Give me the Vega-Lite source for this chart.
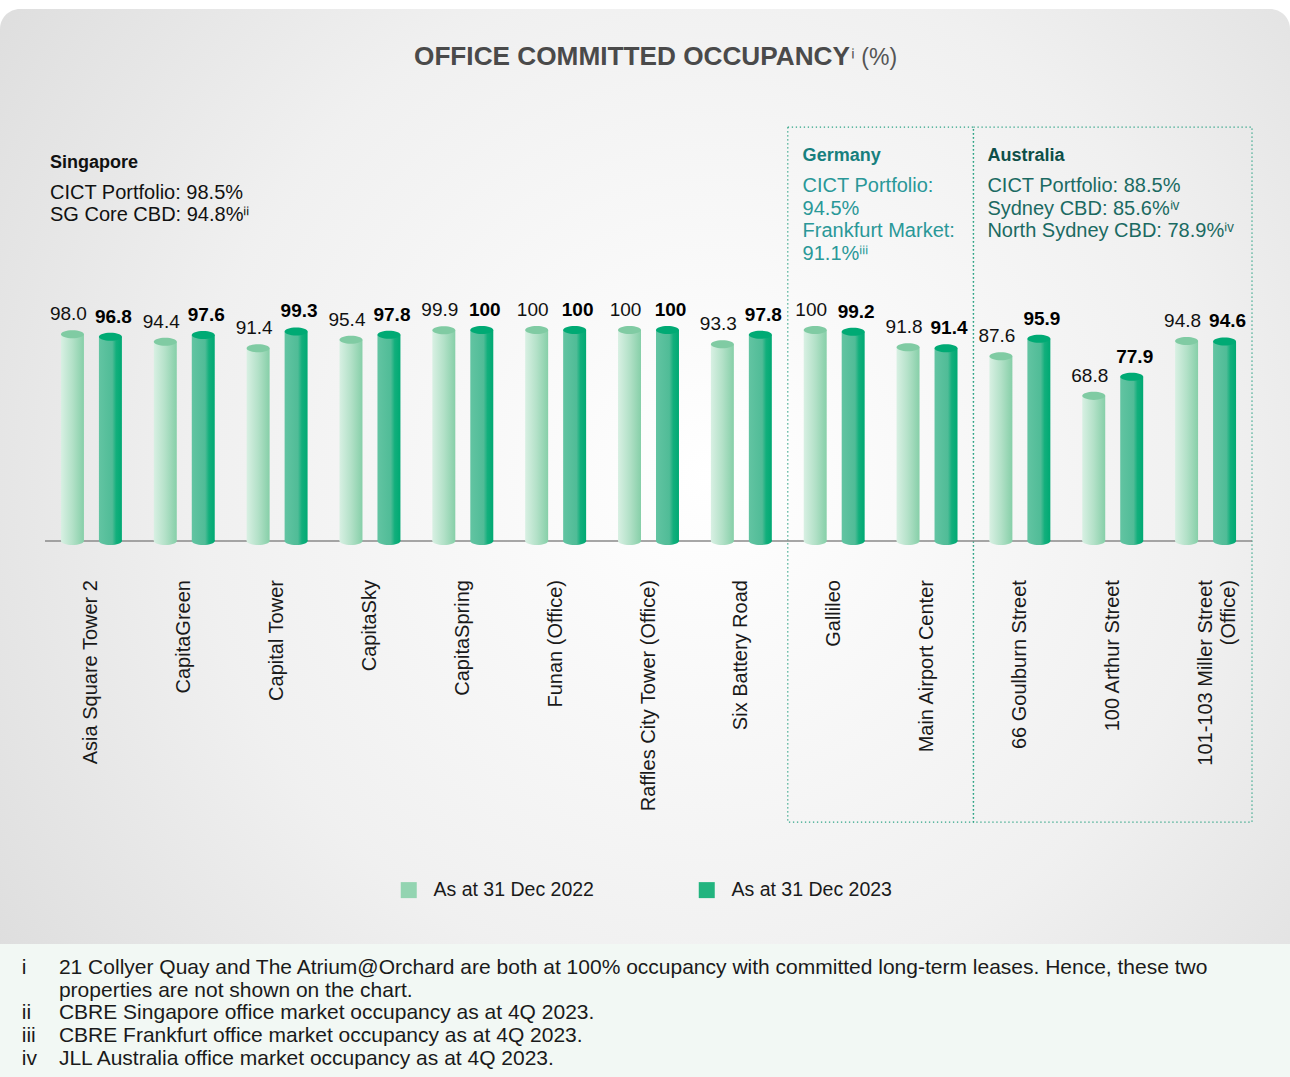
{
  "$schema": "https://vega.github.io/schema/vega-lite/v6.json",
  "width": 1290,
  "height": 1077,
  "autosize": {"type": "none"},
  "padding": 0,
  "background": "#ffffff",
  "config": {"view": {"stroke": null}, "font": "Liberation Sans"},
  "datasets": {
    "occ": [
      {"property": "Asia Square Tower 2", "series": "As at 31 Dec 2022", "value": 98.0, "label": "98.0"},
      {"property": "Asia Square Tower 2", "series": "As at 31 Dec 2023", "value": 96.8, "label": "96.8"},
      {"property": "CapitaGreen", "series": "As at 31 Dec 2022", "value": 94.4, "label": "94.4"},
      {"property": "CapitaGreen", "series": "As at 31 Dec 2023", "value": 97.6, "label": "97.6"},
      {"property": "Capital Tower", "series": "As at 31 Dec 2022", "value": 91.4, "label": "91.4"},
      {"property": "Capital Tower", "series": "As at 31 Dec 2023", "value": 99.3, "label": "99.3"},
      {"property": "CapitaSky", "series": "As at 31 Dec 2022", "value": 95.4, "label": "95.4"},
      {"property": "CapitaSky", "series": "As at 31 Dec 2023", "value": 97.8, "label": "97.8"},
      {"property": "CapitaSpring", "series": "As at 31 Dec 2022", "value": 99.9, "label": "99.9"},
      {"property": "CapitaSpring", "series": "As at 31 Dec 2023", "value": 100, "label": "100"},
      {"property": "Funan (Office)", "series": "As at 31 Dec 2022", "value": 100, "label": "100"},
      {"property": "Funan (Office)", "series": "As at 31 Dec 2023", "value": 100, "label": "100"},
      {"property": "Raffles City Tower (Office)", "series": "As at 31 Dec 2022", "value": 100, "label": "100"},
      {"property": "Raffles City Tower (Office)", "series": "As at 31 Dec 2023", "value": 100, "label": "100"},
      {"property": "Six Battery Road", "series": "As at 31 Dec 2022", "value": 93.3, "label": "93.3"},
      {"property": "Six Battery Road", "series": "As at 31 Dec 2023", "value": 97.8, "label": "97.8"},
      {"property": "Gallileo", "series": "As at 31 Dec 2022", "value": 100, "label": "100"},
      {"property": "Gallileo", "series": "As at 31 Dec 2023", "value": 99.2, "label": "99.2"},
      {"property": "Main Airport Center", "series": "As at 31 Dec 2022", "value": 91.8, "label": "91.8"},
      {"property": "Main Airport Center", "series": "As at 31 Dec 2023", "value": 91.4, "label": "91.4"},
      {"property": "66 Goulburn Street", "series": "As at 31 Dec 2022", "value": 87.6, "label": "87.6"},
      {"property": "66 Goulburn Street", "series": "As at 31 Dec 2023", "value": 95.9, "label": "95.9"},
      {"property": "100 Arthur Street", "series": "As at 31 Dec 2022", "value": 68.8, "label": "68.8"},
      {"property": "100 Arthur Street", "series": "As at 31 Dec 2023", "value": 77.9, "label": "77.9"},
      {"property": "101-103 Miller Street\n(Office)", "series": "As at 31 Dec 2022", "value": 94.8, "label": "94.8"},
      {"property": "101-103 Miller Street\n(Office)", "series": "As at 31 Dec 2023", "value": 94.6, "label": "94.6"}
    ]
  },
  "data": {"name": "occ"},
  "layer": [
    {
      "data": {"values": [{"panel": "card"}]},
      "mark": {"type": "rect", "cornerRadiusTopLeft": 20, "cornerRadiusTopRight": 20,
        "fill": {"gradient": "radial", "x1": 0.55, "y1": 0.5, "x2": 0.55, "y2": 0.5, "r1": 0, "r2": 0.72,
          "stops": [{"offset": 0, "color": "#ffffff"}, {"offset": 0.55, "color": "#f0f0f0"}, {"offset": 1, "color": "#dadada"}]}},
      "encoding": {
        "y": {"datum": 252.1, "type": "quantitative", "scale": {"domain": [-254, 256.4], "nice": false, "zero": false}, "axis": null},
        "y2": {"datum": -191}
      }
    },
    {
      "data": {"values": [{"panel": "notes"}]},
      "mark": {"type": "rect", "fill": "#f2f8f4"},
      "encoding": {
        "y": {"datum": -191, "type": "quantitative", "scale": {"domain": [-254, 256.4], "nice": false, "zero": false}, "axis": null},
        "y2": {"datum": -254}
      }
    },
    {
      "data": {"values": [{"first": "Gallileo", "last": "Main Airport Center"}, {"first": "66 Goulburn Street", "last": "101-103 Miller Street\n(Office)"}]},
      "mark": {"type": "rect", "fillOpacity": 0, "stroke": "#2fa486", "strokeWidth": 1.3, "strokeDash": [1.3, 2.7]},
      "encoding": {
        "x": {"field": "first", "type": "nominal", "bandPosition": 0, "axis": null,
          "scale": {"domain": ["Asia Square Tower 2","CapitaGreen","Capital Tower","CapitaSky","CapitaSpring","Funan (Office)","Raffles City Tower (Office)","Six Battery Road","Gallileo","Main Airport Center","66 Goulburn Street","100 Arthur Street","101-103 Miller Street\n(Office)"], "range": [45, 1252], "paddingInner": 0, "paddingOuter": 0}},
        "x2": {"field": "last", "bandPosition": 1},
        "y": {"datum": 196.2, "type": "quantitative", "scale": {"domain": [-254, 256.4], "nice": false, "zero": false}, "axis": null},
        "y2": {"datum": -133.2}
      }
    },
    {
      "data": {"values": [{"from": "Asia Square Tower 2", "to": "101-103 Miller Street\n(Office)"}]},
      "mark": {"type": "rule", "color": "#8a8a8a", "strokeWidth": 1.5},
      "encoding": {
        "x": {"field": "from", "type": "nominal", "bandPosition": 0, "axis": null,
          "scale": {"domain": ["Asia Square Tower 2","CapitaGreen","Capital Tower","CapitaSky","CapitaSpring","Funan (Office)","Raffles City Tower (Office)","Six Battery Road","Gallileo","Main Airport Center","66 Goulburn Street","100 Arthur Street","101-103 Miller Street\n(Office)"], "range": [45, 1252], "paddingInner": 0, "paddingOuter": 0}},
        "x2": {"field": "to", "bandPosition": 1},
        "y": {"datum": 0, "type": "quantitative", "scale": {"domain": [-254, 256.4], "nice": false, "zero": false}, "axis": null}
      }
    },
    {
      "transform": [{"filter": "datum.series == 'As at 31 Dec 2022'"}],
      "mark": {"type": "point", "filled": true, "opacity": 1, "strokeWidth": 0, "size": 529,
        "shape": "M-1,0A1,0.35,0,1,0,1,0A1,0.35,0,1,0,-1,0Z",
        "fill": {"gradient": "linear", "x1": 0, "y1": 0, "x2": 1, "y2": 0, "stops": [{"offset": 0, "color": "#d8f0e3"}, {"offset": 0.5, "color": "#b3e1c8"}, {"offset": 1, "color": "#86cfa8"}]}},
      "encoding": {
        "x": {"field": "property", "type": "nominal", "axis": null,
          "scale": {"domain": ["Asia Square Tower 2","CapitaGreen","Capital Tower","CapitaSky","CapitaSpring","Funan (Office)","Raffles City Tower (Office)","Six Battery Road","Gallileo","Main Airport Center","66 Goulburn Street","100 Arthur Street","101-103 Miller Street\n(Office)"], "range": [45, 1252], "paddingInner": 0, "paddingOuter": 0}},
        "xOffset": {"field": "series", "type": "nominal", "scale": {"domain": ["As at 31 Dec 2022", "As at 31 Dec 2023"], "paddingInner": 0.395, "paddingOuter": 0.42}},
        "y": {"datum": 0, "type": "quantitative", "scale": {"domain": [-254, 256.4], "nice": false, "zero": false}, "axis": null}
      }
    },
    {
      "transform": [{"filter": "datum.series == 'As at 31 Dec 2023'"}],
      "mark": {"type": "point", "filled": true, "opacity": 1, "strokeWidth": 0, "size": 529,
        "shape": "M-1,0A1,0.35,0,1,0,1,0A1,0.35,0,1,0,-1,0Z",
        "fill": {"gradient": "linear", "x1": 0, "y1": 0, "x2": 1, "y2": 0, "stops": [{"offset": 0, "color": "#62c4a2"}, {"offset": 0.58, "color": "#50bc97"}, {"offset": 0.75, "color": "#12af7c"}, {"offset": 1, "color": "#00a973"}]}},
      "encoding": {
        "x": {"field": "property", "type": "nominal", "axis": null,
          "scale": {"domain": ["Asia Square Tower 2","CapitaGreen","Capital Tower","CapitaSky","CapitaSpring","Funan (Office)","Raffles City Tower (Office)","Six Battery Road","Gallileo","Main Airport Center","66 Goulburn Street","100 Arthur Street","101-103 Miller Street\n(Office)"], "range": [45, 1252], "paddingInner": 0, "paddingOuter": 0}},
        "xOffset": {"field": "series", "type": "nominal", "scale": {"domain": ["As at 31 Dec 2022", "As at 31 Dec 2023"], "paddingInner": 0.395, "paddingOuter": 0.42}},
        "y": {"datum": 0, "type": "quantitative", "scale": {"domain": [-254, 256.4], "nice": false, "zero": false}, "axis": null}
      }
    },
    {
      "transform": [{"filter": "datum.series == 'As at 31 Dec 2022'"}],
      "mark": {"type": "bar",
        "fill": {"gradient": "linear", "x1": 0, "y1": 0, "x2": 1, "y2": 0, "stops": [{"offset": 0, "color": "#d8f0e3"}, {"offset": 0.5, "color": "#b3e1c8"}, {"offset": 1, "color": "#86cfa8"}]}},
      "encoding": {
        "x": {"field": "property", "type": "nominal", "axis": null,
          "scale": {"domain": ["Asia Square Tower 2","CapitaGreen","Capital Tower","CapitaSky","CapitaSpring","Funan (Office)","Raffles City Tower (Office)","Six Battery Road","Gallileo","Main Airport Center","66 Goulburn Street","100 Arthur Street","101-103 Miller Street\n(Office)"], "range": [45, 1252], "paddingInner": 0, "paddingOuter": 0}},
        "xOffset": {"field": "series", "type": "nominal", "scale": {"domain": ["As at 31 Dec 2022", "As at 31 Dec 2023"], "paddingInner": 0.395, "paddingOuter": 0.42}},
        "y": {"field": "value", "type": "quantitative", "scale": {"domain": [-254, 256.4], "nice": false, "zero": false}, "axis": null},
        "y2": {"datum": 0}
      }
    },
    {
      "transform": [{"filter": "datum.series == 'As at 31 Dec 2023'"}],
      "mark": {"type": "bar",
        "fill": {"gradient": "linear", "x1": 0, "y1": 0, "x2": 1, "y2": 0, "stops": [{"offset": 0, "color": "#62c4a2"}, {"offset": 0.58, "color": "#50bc97"}, {"offset": 0.75, "color": "#12af7c"}, {"offset": 1, "color": "#00a973"}]}},
      "encoding": {
        "x": {"field": "property", "type": "nominal", "axis": null,
          "scale": {"domain": ["Asia Square Tower 2","CapitaGreen","Capital Tower","CapitaSky","CapitaSpring","Funan (Office)","Raffles City Tower (Office)","Six Battery Road","Gallileo","Main Airport Center","66 Goulburn Street","100 Arthur Street","101-103 Miller Street\n(Office)"], "range": [45, 1252], "paddingInner": 0, "paddingOuter": 0}},
        "xOffset": {"field": "series", "type": "nominal", "scale": {"domain": ["As at 31 Dec 2022", "As at 31 Dec 2023"], "paddingInner": 0.395, "paddingOuter": 0.42}},
        "y": {"field": "value", "type": "quantitative", "scale": {"domain": [-254, 256.4], "nice": false, "zero": false}, "axis": null},
        "y2": {"datum": 0}
      }
    },
    {
      "transform": [{"filter": "datum.series == 'As at 31 Dec 2022'"}],
      "mark": {"type": "point", "filled": true, "opacity": 1, "strokeWidth": 0, "size": 529, "fill": "#80cba3",
        "shape": "M-1,0A1,0.35,0,1,0,1,0A1,0.35,0,1,0,-1,0Z"},
      "encoding": {
        "x": {"field": "property", "type": "nominal", "axis": null,
          "scale": {"domain": ["Asia Square Tower 2","CapitaGreen","Capital Tower","CapitaSky","CapitaSpring","Funan (Office)","Raffles City Tower (Office)","Six Battery Road","Gallileo","Main Airport Center","66 Goulburn Street","100 Arthur Street","101-103 Miller Street\n(Office)"], "range": [45, 1252], "paddingInner": 0, "paddingOuter": 0}},
        "xOffset": {"field": "series", "type": "nominal", "scale": {"domain": ["As at 31 Dec 2022", "As at 31 Dec 2023"], "paddingInner": 0.395, "paddingOuter": 0.42}},
        "y": {"field": "value", "type": "quantitative", "scale": {"domain": [-254, 256.4], "nice": false, "zero": false}, "axis": null}
      }
    },
    {
      "transform": [{"filter": "datum.series == 'As at 31 Dec 2023'"}],
      "mark": {"type": "point", "filled": true, "opacity": 1, "strokeWidth": 0, "size": 529, "fill": "#00aa74",
        "shape": "M-1,0A1,0.35,0,1,0,1,0A1,0.35,0,1,0,-1,0Z"},
      "encoding": {
        "x": {"field": "property", "type": "nominal", "axis": null,
          "scale": {"domain": ["Asia Square Tower 2","CapitaGreen","Capital Tower","CapitaSky","CapitaSpring","Funan (Office)","Raffles City Tower (Office)","Six Battery Road","Gallileo","Main Airport Center","66 Goulburn Street","100 Arthur Street","101-103 Miller Street\n(Office)"], "range": [45, 1252], "paddingInner": 0, "paddingOuter": 0}},
        "xOffset": {"field": "series", "type": "nominal", "scale": {"domain": ["As at 31 Dec 2022", "As at 31 Dec 2023"], "paddingInner": 0.395, "paddingOuter": 0.42}},
        "y": {"field": "value", "type": "quantitative", "scale": {"domain": [-254, 256.4], "nice": false, "zero": false}, "axis": null}
      }
    },
    {
      "transform": [{"filter": "datum.series == 'As at 31 Dec 2022'"}],
      "mark": {"type": "text", "fontSize": 19, "color": "#111111", "baseline": "alphabetic", "dy": -14, "dx": -4},
      "encoding": {
        "x": {"field": "property", "type": "nominal", "axis": null,
          "scale": {"domain": ["Asia Square Tower 2","CapitaGreen","Capital Tower","CapitaSky","CapitaSpring","Funan (Office)","Raffles City Tower (Office)","Six Battery Road","Gallileo","Main Airport Center","66 Goulburn Street","100 Arthur Street","101-103 Miller Street\n(Office)"], "range": [45, 1252], "paddingInner": 0, "paddingOuter": 0}},
        "xOffset": {"field": "series", "type": "nominal", "scale": {"domain": ["As at 31 Dec 2022", "As at 31 Dec 2023"], "paddingInner": 0.395, "paddingOuter": 0.42}},
        "y": {"field": "value", "type": "quantitative", "scale": {"domain": [-254, 256.4], "nice": false, "zero": false}, "axis": null},
        "text": {"field": "label", "type": "nominal"}
      }
    },
    {
      "transform": [{"filter": "datum.series == 'As at 31 Dec 2023'"}],
      "mark": {"type": "text", "fontSize": 19, "fontWeight": "bold", "color": "#000000", "baseline": "alphabetic", "dy": -14, "dx": 3},
      "encoding": {
        "x": {"field": "property", "type": "nominal", "axis": null,
          "scale": {"domain": ["Asia Square Tower 2","CapitaGreen","Capital Tower","CapitaSky","CapitaSpring","Funan (Office)","Raffles City Tower (Office)","Six Battery Road","Gallileo","Main Airport Center","66 Goulburn Street","100 Arthur Street","101-103 Miller Street\n(Office)"], "range": [45, 1252], "paddingInner": 0, "paddingOuter": 0}},
        "xOffset": {"field": "series", "type": "nominal", "scale": {"domain": ["As at 31 Dec 2022", "As at 31 Dec 2023"], "paddingInner": 0.395, "paddingOuter": 0.42}},
        "y": {"field": "value", "type": "quantitative", "scale": {"domain": [-254, 256.4], "nice": false, "zero": false}, "axis": null},
        "text": {"field": "label", "type": "nominal"}
      }
    },
    {
      "transform": [{"filter": "datum.series == 'As at 31 Dec 2022'"}],
      "mark": {"type": "text", "fontSize": 20, "color": "#1a1a1a", "angle": 270, "align": "right", "baseline": "middle", "lineBreak": "\n", "lineHeight": 23},
      "encoding": {
        "x": {"field": "property", "type": "nominal", "axis": null,
          "scale": {"domain": ["Asia Square Tower 2","CapitaGreen","Capital Tower","CapitaSky","CapitaSpring","Funan (Office)","Raffles City Tower (Office)","Six Battery Road","Gallileo","Main Airport Center","66 Goulburn Street","100 Arthur Street","101-103 Miller Street\n(Office)"], "range": [45, 1252], "paddingInner": 0, "paddingOuter": 0}},
        "y": {"datum": -18.5, "type": "quantitative", "scale": {"domain": [-254, 256.4], "nice": false, "zero": false}, "axis": null},
        "text": {"field": "property", "type": "nominal"}
      }
    },
    {
      "mark": {"type": "square", "opacity": 0},
      "encoding": {
        "x": {"field": "property", "type": "nominal", "axis": null,
          "scale": {"domain": ["Asia Square Tower 2","CapitaGreen","Capital Tower","CapitaSky","CapitaSpring","Funan (Office)","Raffles City Tower (Office)","Six Battery Road","Gallileo","Main Airport Center","66 Goulburn Street","100 Arthur Street","101-103 Miller Street\n(Office)"], "range": [45, 1252], "paddingInner": 0, "paddingOuter": 0}},
        "y": {"field": "value", "type": "quantitative", "scale": {"domain": [-254, 256.4], "nice": false, "zero": false}, "axis": null},
        "color": {"field": "series", "type": "nominal",
          "scale": {"domain": ["As at 31 Dec 2022", "As at 31 Dec 2023"], "range": ["#93d4b1", "#22b47f"]},
          "legend": {"title": null, "orient": "none", "legendX": 399, "legendY": 880, "direction": "horizontal",
            "symbolType": "square", "symbolSize": 256, "symbolOpacity": 1, "symbolStrokeWidth": 0,
            "labelFontSize": 19.5, "labelColor": "#1a1a1a", "labelFont": "Liberation Sans", "labelOffset": 15,
            "columnPadding": 103, "padding": 0, "labelLimit": 0}}
      }
    },
    {
      "data": {"values": [{"anchor": "Gallileo", "text": "OFFICE COMMITTED OCCUPANCY"}]},
      "mark": {"type": "text", "fontSize": 26.2, "fontWeight": "bold", "color": "#4a4a4a", "align": "right", "baseline": "alphabetic"},
      "encoding": {
        "x": {"field": "anchor", "type": "nominal", "bandPosition": 0.67, "axis": null,
          "scale": {"domain": ["Asia Square Tower 2","CapitaGreen","Capital Tower","CapitaSky","CapitaSpring","Funan (Office)","Raffles City Tower (Office)","Six Battery Road","Gallileo","Main Airport Center","66 Goulburn Street","100 Arthur Street","101-103 Miller Street\n(Office)"], "range": [45, 1252], "paddingInner": 0, "paddingOuter": 0}},
        "y": {"datum": 225.6, "type": "quantitative", "scale": {"domain": [-254, 256.4], "nice": false, "zero": false}, "axis": null},
        "text": {"field": "text", "type": "nominal"}
      }
    },
    {
      "data": {"values": [{"anchor": "Gallileo", "text": "ⁱ (%)"}]},
      "mark": {"type": "text", "fontSize": 23, "color": "#555555", "align": "left", "baseline": "alphabetic"},
      "encoding": {
        "x": {"field": "anchor", "type": "nominal", "bandPosition": 0.68, "axis": null,
          "scale": {"domain": ["Asia Square Tower 2","CapitaGreen","Capital Tower","CapitaSky","CapitaSpring","Funan (Office)","Raffles City Tower (Office)","Six Battery Road","Gallileo","Main Airport Center","66 Goulburn Street","100 Arthur Street","101-103 Miller Street\n(Office)"], "range": [45, 1252], "paddingInner": 0, "paddingOuter": 0}},
        "y": {"datum": 225.6, "type": "quantitative", "scale": {"domain": [-254, 256.4], "nice": false, "zero": false}, "axis": null},
        "text": {"field": "text", "type": "nominal"}
      }
    },
    {
      "data": {"values": [{"anchor": "Asia Square Tower 2", "text": "Singapore"}]},
      "mark": {"type": "text", "fontSize": 18, "fontWeight": "bold", "color": "#111111", "align": "left", "baseline": "alphabetic"},
      "encoding": {
        "x": {"field": "anchor", "type": "nominal", "bandPosition": 0.054, "axis": null,
          "scale": {"domain": ["Asia Square Tower 2","CapitaGreen","Capital Tower","CapitaSky","CapitaSpring","Funan (Office)","Raffles City Tower (Office)","Six Battery Road","Gallileo","Main Airport Center","66 Goulburn Street","100 Arthur Street","101-103 Miller Street\n(Office)"], "range": [45, 1252], "paddingInner": 0, "paddingOuter": 0}},
        "y": {"datum": 176.8, "type": "quantitative", "scale": {"domain": [-254, 256.4], "nice": false, "zero": false}, "axis": null},
        "text": {"field": "text", "type": "nominal"}
      }
    },
    {
      "data": {"values": [{"anchor": "Asia Square Tower 2", "text": "CICT Portfolio: 98.5%\nSG Core CBD: 94.8%ⁱⁱ"}]},
      "mark": {"type": "text", "fontSize": 20, "color": "#111111", "align": "left", "baseline": "alphabetic", "lineBreak": "\n", "lineHeight": 22},
      "encoding": {
        "x": {"field": "anchor", "type": "nominal", "bandPosition": 0.054, "axis": null,
          "scale": {"domain": ["Asia Square Tower 2","CapitaGreen","Capital Tower","CapitaSky","CapitaSpring","Funan (Office)","Raffles City Tower (Office)","Six Battery Road","Gallileo","Main Airport Center","66 Goulburn Street","100 Arthur Street","101-103 Miller Street\n(Office)"], "range": [45, 1252], "paddingInner": 0, "paddingOuter": 0}},
        "y": {"datum": 162.1, "type": "quantitative", "scale": {"domain": [-254, 256.4], "nice": false, "zero": false}, "axis": null},
        "text": {"field": "text", "type": "nominal"}
      }
    },
    {
      "data": {"values": [{"anchor": "Gallileo", "text": "Germany"}]},
      "mark": {"type": "text", "fontSize": 18, "fontWeight": "bold", "color": "#17807e", "align": "left", "baseline": "alphabetic"},
      "encoding": {
        "x": {"field": "anchor", "type": "nominal", "bandPosition": 0.16, "axis": null,
          "scale": {"domain": ["Asia Square Tower 2","CapitaGreen","Capital Tower","CapitaSky","CapitaSpring","Funan (Office)","Raffles City Tower (Office)","Six Battery Road","Gallileo","Main Airport Center","66 Goulburn Street","100 Arthur Street","101-103 Miller Street\n(Office)"], "range": [45, 1252], "paddingInner": 0, "paddingOuter": 0}},
        "y": {"datum": 180.1, "type": "quantitative", "scale": {"domain": [-254, 256.4], "nice": false, "zero": false}, "axis": null},
        "text": {"field": "text", "type": "nominal"}
      }
    },
    {
      "data": {"values": [{"anchor": "Gallileo", "text": "CICT Portfolio:\n94.5%\nFrankfurt Market:\n91.1%ⁱⁱⁱ"}]},
      "mark": {"type": "text", "fontSize": 20, "color": "#2a9898", "align": "left", "baseline": "alphabetic", "lineBreak": "\n", "lineHeight": 22.7},
      "encoding": {
        "x": {"field": "anchor", "type": "nominal", "bandPosition": 0.16, "axis": null,
          "scale": {"domain": ["Asia Square Tower 2","CapitaGreen","Capital Tower","CapitaSky","CapitaSpring","Funan (Office)","Raffles City Tower (Office)","Six Battery Road","Gallileo","Main Airport Center","66 Goulburn Street","100 Arthur Street","101-103 Miller Street\n(Office)"], "range": [45, 1252], "paddingInner": 0, "paddingOuter": 0}},
        "y": {"datum": 165.4, "type": "quantitative", "scale": {"domain": [-254, 256.4], "nice": false, "zero": false}, "axis": null},
        "text": {"field": "text", "type": "nominal"}
      }
    },
    {
      "data": {"values": [{"anchor": "66 Goulburn Street", "text": "Australia"}]},
      "mark": {"type": "text", "fontSize": 18, "fontWeight": "bold", "color": "#0e4f48", "align": "left", "baseline": "alphabetic"},
      "encoding": {
        "x": {"field": "anchor", "type": "nominal", "bandPosition": 0.15, "axis": null,
          "scale": {"domain": ["Asia Square Tower 2","CapitaGreen","Capital Tower","CapitaSky","CapitaSpring","Funan (Office)","Raffles City Tower (Office)","Six Battery Road","Gallileo","Main Airport Center","66 Goulburn Street","100 Arthur Street","101-103 Miller Street\n(Office)"], "range": [45, 1252], "paddingInner": 0, "paddingOuter": 0}},
        "y": {"datum": 180.1, "type": "quantitative", "scale": {"domain": [-254, 256.4], "nice": false, "zero": false}, "axis": null},
        "text": {"field": "text", "type": "nominal"}
      }
    },
    {
      "data": {"values": [{"anchor": "66 Goulburn Street", "text": "CICT Portfolio: 88.5%\nSydney CBD: 85.6%ⁱᵛ\nNorth Sydney CBD: 78.9%ⁱᵛ"}]},
      "mark": {"type": "text", "fontSize": 20, "color": "#1b6a62", "align": "left", "baseline": "alphabetic", "lineBreak": "\n", "lineHeight": 22.7},
      "encoding": {
        "x": {"field": "anchor", "type": "nominal", "bandPosition": 0.15, "axis": null,
          "scale": {"domain": ["Asia Square Tower 2","CapitaGreen","Capital Tower","CapitaSky","CapitaSpring","Funan (Office)","Raffles City Tower (Office)","Six Battery Road","Gallileo","Main Airport Center","66 Goulburn Street","100 Arthur Street","101-103 Miller Street\n(Office)"], "range": [45, 1252], "paddingInner": 0, "paddingOuter": 0}},
        "y": {"datum": 165.4, "type": "quantitative", "scale": {"domain": [-254, 256.4], "nice": false, "zero": false}, "axis": null},
        "text": {"field": "text", "type": "nominal"}
      }
    },
    {
      "data": {"values": [{"anchor": "Asia Square Tower 2", "text": "i"}]},
      "mark": {"type": "text", "fontSize": 21, "color": "#1a1a1a", "align": "left", "baseline": "alphabetic"},
      "encoding": {
        "x": {"field": "anchor", "type": "nominal", "bandPosition": -0.25, "axis": null,
          "scale": {"domain": ["Asia Square Tower 2","CapitaGreen","Capital Tower","CapitaSky","CapitaSpring","Funan (Office)","Raffles City Tower (Office)","Six Battery Road","Gallileo","Main Airport Center","66 Goulburn Street","100 Arthur Street","101-103 Miller Street\n(Office)"], "range": [45, 1252], "paddingInner": 0, "paddingOuter": 0}},
        "y": {"datum": -205.2, "type": "quantitative", "scale": {"domain": [-254, 256.4], "nice": false, "zero": false}, "axis": null},
        "text": {"field": "text", "type": "nominal"}
      }
    },
    {
      "data": {"values": [{"anchor": "Asia Square Tower 2", "text": "ii\niii\niv"}]},
      "mark": {"type": "text", "fontSize": 21, "color": "#1a1a1a", "align": "left", "baseline": "alphabetic", "lineBreak": "\n", "lineHeight": 22.7},
      "encoding": {
        "x": {"field": "anchor", "type": "nominal", "bandPosition": -0.25, "axis": null,
          "scale": {"domain": ["Asia Square Tower 2","CapitaGreen","Capital Tower","CapitaSky","CapitaSpring","Funan (Office)","Raffles City Tower (Office)","Six Battery Road","Gallileo","Main Airport Center","66 Goulburn Street","100 Arthur Street","101-103 Miller Street\n(Office)"], "range": [45, 1252], "paddingInner": 0, "paddingOuter": 0}},
        "y": {"datum": -226.7, "type": "quantitative", "scale": {"domain": [-254, 256.4], "nice": false, "zero": false}, "axis": null},
        "text": {"field": "text", "type": "nominal"}
      }
    },
    {
      "data": {"values": [{"anchor": "Asia Square Tower 2", "text": "21 Collyer Quay and The Atrium@Orchard are both at 100% occupancy with committed long-term leases. Hence, these two\nproperties are not shown on the chart.\nCBRE Singapore office market occupancy as at 4Q 2023.\nCBRE Frankfurt office market occupancy as at 4Q 2023.\nJLL Australia office market occupancy as at 4Q 2023."}]},
      "mark": {"type": "text", "fontSize": 21, "color": "#1a1a1a", "align": "left", "baseline": "alphabetic", "lineBreak": "\n", "lineHeight": 22.7},
      "encoding": {
        "x": {"field": "anchor", "type": "nominal", "bandPosition": 0.15, "axis": null,
          "scale": {"domain": ["Asia Square Tower 2","CapitaGreen","Capital Tower","CapitaSky","CapitaSpring","Funan (Office)","Raffles City Tower (Office)","Six Battery Road","Gallileo","Main Airport Center","66 Goulburn Street","100 Arthur Street","101-103 Miller Street\n(Office)"], "range": [45, 1252], "paddingInner": 0, "paddingOuter": 0}},
        "y": {"datum": -205.2, "type": "quantitative", "scale": {"domain": [-254, 256.4], "nice": false, "zero": false}, "axis": null},
        "text": {"field": "text", "type": "nominal"}
      }
    }
  ]
}
